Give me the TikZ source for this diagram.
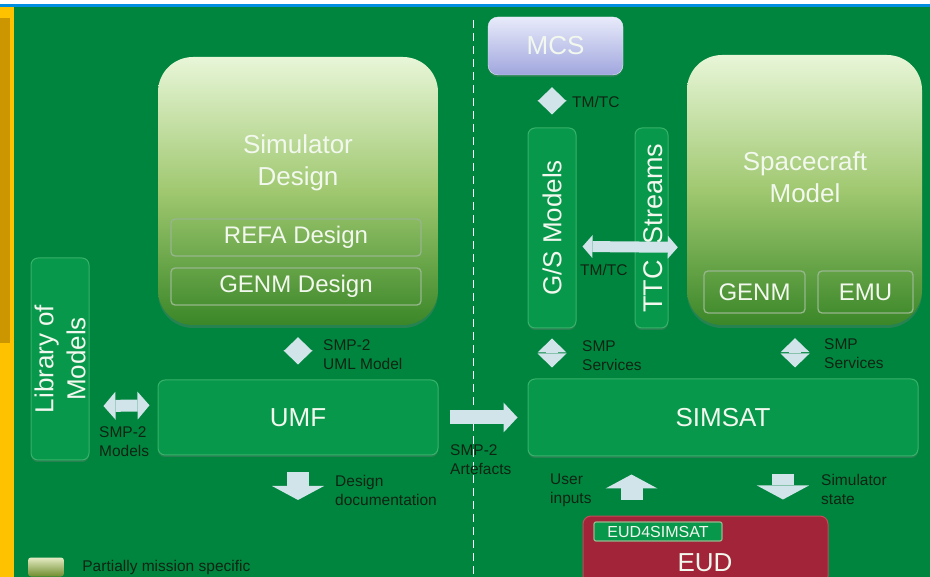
\documentclass[tikz,border=0pt]{standalone}
\usepackage{fontspec}
\setmainfont{Liberation Sans}
\usetikzlibrary{positioning,arrows.meta,shadows}
\definecolor{bggreen}{RGB}{0,133,62}
\definecolor{boxgreen}{RGB}{8,152,76}
\definecolor{boxedge}{RGB}{55,178,105}
\definecolor{padtop}{RGB}{232,246,216}
\definecolor{padmid}{RGB}{160,200,112}
\definecolor{padbot}{RGB}{58,135,40}
\definecolor{subedge}{RGB}{150,182,140}
\definecolor{mcstop}{RGB}{232,235,250}
\definecolor{mcsbot}{RGB}{160,166,222}
\definecolor{eudred}{RGB}{162,36,56}
\definecolor{eudedge}{RGB}{195,75,90}
\definecolor{arrowblue}{RGB}{208,228,234}
\definecolor{lbltext}{RGB}{14,36,18}
\definecolor{titletext}{RGB}{242,248,238}
\definecolor{topblue}{RGB}{0,142,224}
\definecolor{barbright}{RGB}{255,194,0}
\definecolor{bardark}{RGB}{204,150,0}
\definecolor{legtop}{RGB}{228,236,196}
\definecolor{legbot}{RGB}{112,140,45}

\begin{document}
\begin{tikzpicture}[x=1pt, y=-1pt,
  bigbox/.style = {inner sep=0pt, rounded corners=35pt, top color=padtop, bottom color=padbot, middle color=padmid, drop shadow={opacity=.3, shadow xshift=0pt, shadow yshift=-3pt}},
  greenbox/.style = {inner sep=0pt, fill=boxgreen, draw=boxedge, line width=1pt, rounded corners=7pt, drop shadow={opacity=.3, shadow xshift=0pt, shadow yshift=-2pt}},
  subbox/.style = {inner sep=0pt, draw=subedge, line width=1.3pt, rounded corners=4pt, text=titletext, font=\fontsize{24}{28}\selectfont},
  title/.style = {text=titletext, font=\fontsize{26}{32}\selectfont, align=center},
  lbl/.style = {inner sep=0pt, anchor=north west, align=left, text=lbltext, font=\fontsize{15.5}{19}\selectfont},
  diam/.style = {draw=arrowblue, line width=12pt, {Triangle[length=14pt,width=29pt,line width=0pt]}-{Triangle[length=14pt,width=29pt,line width=0pt]}},
  twoway/.style = {draw=arrowblue, line width=12pt, {Triangle[length=12pt,width=28pt,line width=0pt]}-{Triangle[length=12pt,width=28pt,line width=0pt]}},
  ttcway/.style = {draw=arrowblue, line width=11pt, {Triangle[length=10pt,width=23pt,line width=0pt]}-{Triangle[length=10pt,width=23pt,line width=0pt]}},
  oneway/.style = {draw=arrowblue, line width=14pt, -{Triangle[length=14pt,width=30pt,line width=0pt]}},
  blockway/.style = {draw=arrowblue, line width=22pt, -{Triangle[length=14pt,width=52pt,line width=0pt]}}]
  \useasboundingbox (0,0) rectangle (930,577);
  \clip (0,0) rectangle (930,577);
  \fill[white] (0,0) rectangle (930,577);
  \fill[topblue] (0,4) rectangle (930,7);
  \fill[bggreen] (14,7) rectangle (930,577);
  \fill[barbright] (0,7) rectangle (14,577);
  \fill[bardark] (0,18) rectangle (10,343);
  \draw[white, line width=1pt, dash pattern=on 8pt off 5pt] (473,20) -- (473,577);

  \node[bigbox, minimum width=280pt, minimum height=268pt] (simdes) at (298,191) {};
  \node[title] at (298,163) {Simulator\\Design};
  \node[subbox, minimum width=250pt, minimum height=37pt] (refa) at (296,237.5) {REFA Design};
  \node[subbox, minimum width=250pt, minimum height=37pt] (genmd) at (296,286.5) {GENM Design};

  \node[greenbox, minimum width=58pt, minimum height=202pt] (lib) at (60,359) {};
  \node[title, rotate=90] at (lib) {Library of\\Models};
  \node[greenbox, minimum width=280pt, minimum height=75pt, title] (umf) at (298,417.5) {UMF};
  \coordinate (docs) at (298,500);

  \node[inner sep=0pt, minimum width=135pt, minimum height=58pt, rounded corners=10pt, top color=mcstop, bottom color=mcsbot, draw=mcstop, title, drop shadow={opacity=.3, shadow xshift=0pt, shadow yshift=-2pt}] (mcs) at (555.5,46) {MCS};
  \node[greenbox, minimum width=48pt, minimum height=200pt] (gsm) at (552,228) {};
  \node[title, rotate=90] at (gsm) {G/S Models};
  \node[greenbox, minimum width=33pt, minimum height=200pt] (ttc) at (651.5,228) {};

  \node[bigbox, minimum width=235pt, minimum height=270pt] (sc) at (804.5,190) {};
  \node[title] at (805,177) {Spacecraft\\Model};
  \node[subbox, minimum width=101pt, minimum height=42pt] (genms) at (754.5,292) {GENM};
  \node[subbox, minimum width=95pt, minimum height=42pt] (emu) at (865.5,292) {EMU};

  \node[greenbox, minimum width=390pt, minimum height=77pt, title] (simsat) at (723,417.5) {SIMSAT};
  \node[inner sep=0pt, minimum width=245pt, minimum height=68pt, rounded corners=8pt, fill=eudred, draw=eudedge, line width=1pt] (eud) at (705.5,550) {};
  \node[title] at (705,563) {EUD};
  \node[inner sep=0pt, minimum width=128pt, minimum height=19pt, rounded corners=2pt, fill=boxgreen, draw=subedge, line width=1.2pt, text=titletext, font=\fontsize{16}{19}\selectfont] (eud4) at (658,531.5) {EUD4SIMSAT};

  \draw[twoway, shorten <=14pt, shorten >=8pt] (lib.-58) -- (umf.175);
  \draw[diam, shorten <=12pt, shorten >=15pt] (simdes.south) -- (umf.north);
  \draw[blockway, shorten <=17pt] (umf.south) -- (docs);
  \draw[oneway, shorten <=11pt, shorten >=10pt] (umf.east) -- (simsat.west);
  \draw[diam, shorten <=12pt, shorten >=13pt] (gsm.north |- mcs.south) -- (gsm.north);
  \node[title, font=\fontsize{27}{32}\selectfont, rotate=90, yshift=-2pt] at (ttc) {TTC\hspace{16pt}Streams};
  \draw[ttcway, shorten <=6pt, shorten >=9pt] (gsm.-37) -- (sc.-154.5);
  \draw[diam, shorten <=10pt, shorten >=11pt] (gsm.south) -- (gsm.south |- simsat.north);
  \draw[diam, shorten <=13pt, shorten >=11pt] (sc.-94) -- (sc.-94 |- simsat.north);
  \draw[blockway, shorten <=16pt, shorten >=18pt] (eud.155) -- (eud.155 |- simsat.south);
  \draw[blockway, shorten <=18pt, shorten >=16pt] (eud.24 |- simsat.south) -- (eud.24);

  \node[lbl] at (99,426) {SMP-2\\Models};
  \node[lbl] at (323,339) {SMP-2\\UML Model};
  \node[lbl] at (335,475) {Design\\documentation};
  \node[lbl] at (450,444) {SMP-2\\Artefacts};
  \node[lbl, anchor=west] at (572,102) {TM/TC};
  \node[lbl, anchor=west] at (580,270) {TM/TC};
  \node[lbl] at (582,340) {SMP\\Services};
  \node[lbl] at (824,338) {SMP\\Services};
  \node[lbl] at (550,474) {User\\inputs};
  \node[lbl] at (821,474) {Simulator\\state};

  \node[inner sep=0pt, minimum width=36pt, minimum height=19pt, rounded corners=3pt, top color=legtop, bottom color=legbot] (legend) at (46,567) {};
  \node[lbl, anchor=west, right=18pt of legend] {Partially mission specific};
\end{tikzpicture}
\end{document}
